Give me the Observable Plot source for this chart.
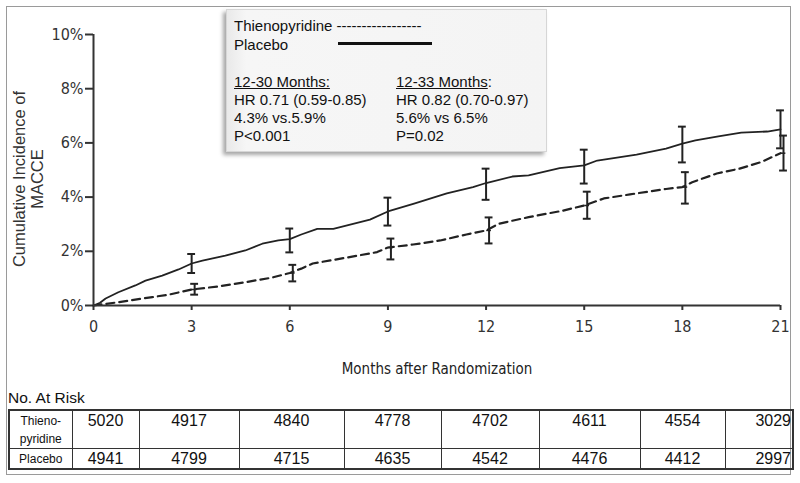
<!DOCTYPE html>
<html>
<head>
<meta charset="utf-8">
<script src="https://cdn.jsdelivr.net/npm/d3@7"></script>
<script src="https://cdn.jsdelivr.net/npm/@observablehq/plot@0.6"></script>
<style>
  body { margin: 0; background: #fff; }
  #wrap { position: relative; width: 800px; height: 483px; overflow: hidden; font-family: "Liberation Sans", Arial, sans-serif; color: #111; }
  #frame { position: absolute; left: 6px; top: 6px; width: 785px; height: 469px; border: 1px solid #9a9a9a; box-sizing: border-box; }
  #plot { position: absolute; left: 0; top: 0; }
  .narrow { font-family: "Liberation Sans Narrow", "DejaVu Sans Condensed", "Arial Narrow", sans-serif; font-stretch: condensed; }
  #ylab { position: absolute; left: -82px; top: 161px; width: 220px; height: 36px; line-height: 18px; font-size: 16.5px; text-align: center; color: #333; transform: rotate(-90deg); transform-origin: 50% 50%; white-space: nowrap; }
  #xlab { position: absolute; left: 287px; top: 360px; width: 300px; text-align: center; font-size: 15px; color: #222; }
  #legend { position: absolute; left: 226px; top: 9px; width: 321px; height: 143px; background: linear-gradient(90deg, #e9e9e9 0%, #f6f6f6 6%, #f4f4f4 100%); border: 1px solid #d6d6d6; box-shadow: -3px 3px 4px rgba(0,0,0,0.35); box-sizing: border-box; font-size: 15px; color: #111; }
  #legend div { position: absolute; white-space: nowrap; line-height: 18px; }
  #legend .u { text-decoration: underline; }
  #pline { position: absolute; left: 111px; top: 32px; width: 94px; height: 3px; background: #111; }
  #risktitle { position: absolute; left: 8px; top: 389px; font-size: 15.5px; color: #111; }
  table { position: absolute; left: 8px; top: 409px; width: 784px; height: 58px; border-collapse: collapse; table-layout: fixed; border: 2px solid #333; }
  td { border: 1.5px solid #333; padding: 0; font-size: 16px; color: #111; text-align: center; }
  tr.r1 td { height: 36px; vertical-align: top; padding-top: 1px; }
  tr.r2 td { height: 19px; vertical-align: middle; }
  td.lab { font-size: 12px; line-height: 18px; }
  td.last { text-align: right; padding-right: 1px; }
</style>
</head>
<body>
<div id="wrap">
  <div id="frame"></div>
  <div id="plot"></div>
  <div id="ylab">Cumulative Incidence of<br>MACCE</div>
  <div id="xlab" class="narrow">Months after Randomization</div>
  <div id="legend">
    <div style="left:7px; top:7px;">Thienopyridine -----------------</div>
    <div style="left:7px; top:26px;">Placebo</div>
    <div id="pline"></div>
    <div style="left:7px; top:63px;"><span class="u">12-30 Months:</span></div>
    <div style="left:7px; top:81px;">HR 0.71 (0.59-0.85)</div>
    <div style="left:7px; top:99px;">4.3% vs.5.9%</div>
    <div style="left:7px; top:117px;">P&lt;0.001</div>
    <div style="left:169px; top:63px;"><span class="u">12-33 Months</span>:</div>
    <div style="left:169px; top:81px;">HR 0.82 (0.70-0.97)</div>
    <div style="left:169px; top:99px;">5.6% vs 6.5%</div>
    <div style="left:169px; top:117px;">P=0.02</div>
  </div>
  <div id="risktitle">No. At Risk</div>
  <table id="risk"></table>
</div>
<script>
// ---- data ----
const xTicks = [0, 3, 6, 9, 12, 15, 18, 21];
const yTicks = [0, 2, 4, 6, 8, 10];

const placeboMonths = [0, 0.2, 0.37, 0.76, 1.28, 1.59, 2.1, 2.6, 3, 3.33, 4.03, 4.64, 5.16, 5.65, 6, 6.35, 6.84, 7.33, 8.45, 9, 9.8, 10.8, 11.6, 12, 12.8, 13.3, 14.25, 15, 15.4, 16.6, 17.5, 18, 18.4, 19.1, 19.8, 20.6, 21];
const placeboPct    = [0, 0.1, 0.26, 0.49, 0.74, 0.92, 1.1, 1.33, 1.55, 1.66, 1.84, 2.03, 2.28, 2.4, 2.45, 2.62, 2.83, 2.83, 3.17, 3.47, 3.76, 4.14, 4.37, 4.52, 4.76, 4.8, 5.07, 5.17, 5.35, 5.57, 5.79, 5.97, 6.09, 6.24, 6.38, 6.42, 6.5];

const thienoMonths = [0, 0.76, 1.07, 1.8, 2.3, 3, 3.8, 4.64, 5.46, 6, 6.35, 6.7, 7.75, 8.67, 9, 9.77, 10.6, 11.4, 12, 12.4, 13.3, 14.35, 15, 15.6, 16.4, 17.5, 18, 18.3, 19.05, 19.75, 20.4, 21];
const thienoPct    = [0, 0.12, 0.18, 0.31, 0.4, 0.59, 0.7, 0.86, 1.03, 1.2, 1.36, 1.55, 1.77, 1.97, 2.14, 2.25, 2.4, 2.62, 2.77, 3.02, 3.26, 3.5, 3.69, 3.95, 4.1, 4.3, 4.37, 4.55, 4.87, 5.05, 5.29, 5.62];

const barMonths = [3, 6, 9, 12, 15, 18, 21];
const placeboMid = [1.55, 2.45, 3.47, 4.52, 5.17, 5.97, 6.5];
const placeboLo  = [1.2, 1.96, 2.95, 3.9, 4.5, 5.28, 5.8];
const placeboHi  = [1.9, 2.84, 3.98, 5.05, 5.75, 6.6, 7.2];
const thienoMid  = [0.59, 1.2, 2.14, 2.77, 3.69, 4.37, 5.62];
const thienoLo   = [0.4, 0.89, 1.7, 2.29, 3.2, 3.76, 4.98];
const thienoHi   = [0.8, 1.5, 2.47, 3.25, 4.2, 4.92, 6.27];

const riskGroups = ["Thieno-<br>pyridine", "Placebo"];
const riskThieno  = [5020, 4917, 4840, 4778, 4702, 4611, 4554, 3029];
const riskPlacebo = [4941, 4799, 4715, 4635, 4542, 4476, 4412, 2997];

// ---- build tables for the marks ----
const placebo = placeboMonths.map((m, i) => ({month: m, pct: placeboPct[i]}));
const thieno = thienoMonths.map((m, i) => ({month: m, pct: thienoPct[i]}));
const pBars = barMonths.map((m, i) => ({month: m, mid: placeboMid[i], lo: placeboLo[i], hi: placeboHi[i]}));
const tBars = barMonths.map((m, i) => ({month: m, mid: thienoMid[i], lo: thienoLo[i], hi: thienoHi[i]}));
const cap = 0.12;

function errorBars(data, extra) {
  return [
    Plot.ruleX(data, {x: "month", y1: "lo", y2: "hi", stroke: "#222", strokeWidth: 2, ...extra}),
    Plot.ruleY(data, {y: "lo", x1: d => d.month - cap, x2: d => d.month + cap, stroke: "#222", strokeWidth: 2, ...extra}),
    Plot.ruleY(data, {y: "hi", x1: d => d.month - cap, x2: d => d.month + cap, stroke: "#222", strokeWidth: 2, ...extra})
  ];
}

const chart = Plot.plot({
  width: 800,
  height: 385,
  marginLeft: 93,
  marginRight: 20,
  marginTop: 34,
  marginBottom: 80,
  style: {fontFamily: '"Liberation Sans Narrow", "DejaVu Sans Condensed", "Arial Narrow", sans-serif', fontSize: "16px", color: "#333", background: "transparent", overflow: "visible"},
  x: {domain: [0, 21], ticks: xTicks, tickSize: 5, tickPadding: 10, label: null},
  y: {domain: [0, 10], ticks: yTicks, tickSize: 8, tickPadding: 2, tickFormat: d => d + "%", label: null},
  marks: [
    Plot.line(thieno, {x: "month", y: "pct", stroke: "#222", strokeWidth: 2.2, strokeDasharray: "8,5"}),
    Plot.line(placebo, {x: "month", y: "pct", stroke: "#222", strokeWidth: 1.8}),
    ...errorBars(pBars, {}),
    ...errorBars(tBars, {dx: 3}),
    Plot.ruleY(tBars, {y: "mid", x1: d => d.month - cap * 0.6, x2: d => d.month + cap * 0.6, stroke: "#222", strokeWidth: 1.5, dx: 3}),
    Plot.ruleY([0], {stroke: "#333", strokeWidth: 2}),
    Plot.ruleX([0], {stroke: "#333", strokeWidth: 2})
  ]
});
chart.querySelectorAll("g[aria-label$='tick'] path, g[aria-label$='axis'] path").forEach(p => p.setAttribute("stroke-width", "2"));
document.getElementById("plot").appendChild(chart);

// ---- risk table ----
const table = document.getElementById("risk");
const widths = [63, 67, 100, 105, 97, 98, 101, 85, 68];
const cg = document.createElement("colgroup");
widths.forEach(w => { const c = document.createElement("col"); c.style.width = w + "px"; cg.appendChild(c); });
table.appendChild(cg);
[[riskGroups[0], riskThieno, "r1"], [riskGroups[1], riskPlacebo, "r2"]].forEach(([lab, vals, cls]) => {
  const tr = document.createElement("tr");
  tr.className = cls;
  const th = document.createElement("td");
  th.className = "lab";
  th.innerHTML = lab;
  tr.appendChild(th);
  vals.forEach((v, i) => {
    const td = document.createElement("td");
    td.textContent = v;
    if (i === vals.length - 1) td.className = "last";
    tr.appendChild(td);
  });
  table.appendChild(tr);
});
</script>
</body>
</html>
